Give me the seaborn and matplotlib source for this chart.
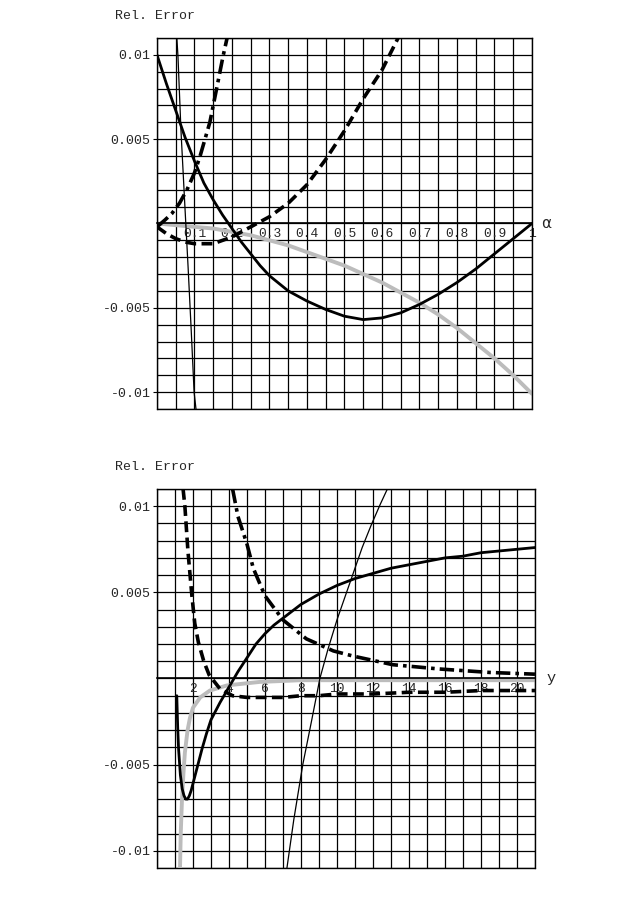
import numpy as np
import pandas as pd
import matplotlib
matplotlib.use("Agg")
import matplotlib.pyplot as plt
import seaborn as sns

# ---- upper panel: relative error against alpha ----
top_solid_x = [0.0, 0.025, 0.05, 0.075, 0.1, 0.125, 0.15, 0.175, 0.2, 0.225, 0.25, 0.275, 0.3,
               0.35, 0.4, 0.45, 0.5, 0.55, 0.6, 0.65, 0.7, 0.75, 0.8, 0.85, 0.9, 0.95, 1.0]
top_solid_y = [0.0100, 0.0083, 0.0067, 0.0051, 0.0037, 0.0024, 0.0014, 0.0005, -0.0003, -0.0011, -0.0018,
               -0.0025, -0.0031, -0.0040, -0.0046, -0.0051, -0.0055, -0.0057, -0.0056, -0.0053, -0.0048,
               -0.0042, -0.0035, -0.0027, -0.0018, -0.0009, 0.0000]

top_gray_x = [0.0, 0.05, 0.1, 0.15, 0.2, 0.25, 0.3, 0.35, 0.4, 0.45, 0.5,
              0.55, 0.6, 0.65, 0.7, 0.75, 0.8, 0.85, 0.9, 0.95, 1.0]
top_gray_y = [0.0000, -0.0001, -0.0002, -0.0003, -0.0005, -0.0007, -0.0010, -0.0013, -0.0017, -0.0021, -0.0025,
              -0.0030, -0.0035, -0.0041, -0.0047, -0.0054, -0.0062, -0.0071, -0.0080, -0.0090, -0.0101]

top_dash_x = [0.0, 0.025, 0.05, 0.075, 0.1, 0.125, 0.15, 0.175, 0.2, 0.25, 0.3, 0.35, 0.4, 0.45, 0.5,
              0.55, 0.6, 0.643]
top_dash_y = [-0.0002, -0.0006, -0.0009, -0.0011, -0.0012, -0.0012, -0.0012, -0.0010, -0.0008, -0.0002,
              0.0004, 0.0012, 0.0023, 0.0038, 0.0055, 0.0074, 0.0091, 0.0110]

top_dashdot_x = [0.0, 0.021, 0.04, 0.06, 0.08, 0.1, 0.115, 0.128, 0.141, 0.16, 0.176, 0.187]
top_dashdot_y = [-0.0002, 0.0002, 0.0006, 0.0012, 0.0020, 0.0030, 0.0040, 0.0050, 0.0060, 0.0081, 0.0099, 0.0110]

top_thin_x = [0.053, 0.056, 0.064, 0.074, 0.083, 0.091, 0.099, 0.104]
top_thin_y = [0.0110, 0.0099, 0.0055, 0.0012, -0.0026, -0.0062, -0.0100, -0.0110]

# ---- lower panel: relative error against y ----
bot_solid_x = [1.1, 1.15, 1.2, 1.3, 1.4, 1.5, 1.6, 1.7, 1.8, 1.9, 2.0, 2.25, 2.5, 2.75, 3.0, 3.5, 4.0,
               4.5, 5.0, 5.5, 6.0, 6.5, 7.0, 8.0, 9.0, 10.0, 11.0, 12.0, 13.0, 14.0, 15.0, 16.0, 17.0,
               18.0, 19.0, 20.0, 21.0]
bot_solid_y = [-0.0010, -0.0028, -0.0041, -0.0056, -0.0064, -0.0068, -0.0070, -0.0070, -0.0068, -0.0065,
               -0.0061, -0.0051, -0.0041, -0.0032, -0.0024, -0.0014, -0.0005, 0.0004, 0.0012, 0.0020,
               0.0026, 0.0031, 0.0035, 0.0043, 0.0049, 0.0054, 0.0058, 0.0061, 0.0064, 0.0066, 0.0068,
               0.0070, 0.0071, 0.0073, 0.0074, 0.0075, 0.0076]

bot_dash_x = [1.45, 1.55, 1.72, 1.94, 2.1, 2.3, 2.6, 2.9, 3.5, 4.2, 5.0, 6.0, 7.0, 8.0, 9.0, 10.0,
              12.0, 14.0, 16.0, 18.0, 20.0, 21.0]
bot_dash_y = [0.0110, 0.0100, 0.0074, 0.0048, 0.0032, 0.0021, 0.0010, 0.0002, -0.0006, -0.0010, -0.0011,
              -0.0011, -0.0011, -0.0010, -0.0010, -0.0009, -0.0009, -0.0008, -0.0008, -0.0007, -0.0007, -0.0007]

bot_dashdot_x = [4.2, 4.5, 5.0, 5.35, 6.0, 7.0, 8.3, 9.8, 10.9, 13.1, 15.7, 18.5, 21.0]
bot_dashdot_y = [0.0110, 0.0094, 0.0078, 0.0064, 0.0048, 0.0034, 0.0023, 0.0016, 0.0013, 0.0008, 0.00055,
                 0.00035, 0.00025]

bot_thin_x = [7.22, 7.6, 8.1, 8.6, 9.05, 9.5, 10.0, 10.5, 10.9, 11.4, 11.9, 12.4, 12.8]
bot_thin_y = [-0.0110, -0.0082, -0.0050, -0.0024, 0.0000, 0.0017, 0.0034, 0.0049, 0.0061, 0.0076, 0.0089,
              0.0101, 0.0110]

bot_gray_x = [1.28, 1.32, 1.39, 1.47, 1.55, 1.7, 1.83, 2.0, 2.4, 2.94, 3.9, 5.7, 8.0, 12.0, 16.0, 21.0]
bot_gray_y = [-0.0110, -0.0090, -0.0070, -0.0055, -0.0043, -0.0030, -0.0023, -0.0017, -0.0011, -0.0007,
              -0.0004, -0.0002, -0.0001, -0.0001, -0.0001, -0.0001]

y_ticks = [-0.01, -0.005, 0.005, 0.01]
y_tick_labels = ["-0.01", "-0.005", "0.005", "0.01"]
top_xticks = [0.1, 0.2, 0.3, 0.4, 0.5, 0.6, 0.7, 0.8, 0.9, 1.0]
top_xtick_labels = ["0.1", "0.2", "0.3", "0.4", "0.5", "0.6", "0.7", "0.8", "0.9", "1"]
bot_xticks = [2, 4, 6, 8, 10, 12, 14, 16, 18, 20]
bot_xtick_labels = ["2", "4", "6", "8", "10", "12", "14", "16", "18", "20"]

YLIM = (-0.011, 0.011)
GRAY = '#bcbcbc'
DASH = (3, 1.5)
DASHDOT = (4, 1.4, 1, 1.4)

sns.set_style("white")
plt.rcParams['font.family'] = ['Liberation Mono', 'DejaVu Sans']
plt.rcParams['axes.unicode_minus'] = False

fig = plt.figure(figsize=(6.34, 9.02), dpi=100)
ax1 = fig.add_axes([0.2476, 0.5466, 0.5915, 0.4113])
ax2 = fig.add_axes([0.2476, 0.0377, 0.5962, 0.4202])


def setup(ax, xmax, xstep, xticks, xlabels, xname, name_pos):
    ax.set_xlim(0, xmax)
    ax.set_ylim(*YLIM)
    ax.set_xticks(np.round(np.arange(0, xmax + xstep / 2, xstep), 4), minor=True)
    ax.set_xticks(xticks)
    ax.set_xticklabels(xlabels)
    ax.set_yticks(np.round(np.arange(YLIM[0], YLIM[1] + 0.0005, 0.001), 4), minor=True)
    ax.set_yticks(y_ticks)
    ax.set_yticklabels(y_tick_labels)
    ax.grid(which='both', color='black', lw=0.9)
    ax.set_axisbelow(True)
    for s in ax.spines.values():
        s.set_color('black')
        s.set_linewidth(1.0)
    ax.spines['bottom'].set_position(('data', 0))
    ax.spines['bottom'].set_linewidth(1.2)
    ax.axhline(YLIM[0], color='black', lw=1.0, clip_on=False)
    ax.tick_params(which='minor', length=0)
    ax.tick_params(axis='x', which='major', direction='inout', length=3, pad=1.5,
                   labelsize=9.3, color='black')
    ax.tick_params(axis='y', which='major', direction='out', length=3, pad=1.5,
                   labelsize=9.5, color='black', left=True)
    ax.set_xlabel(xname, ha='center', va='center', fontsize=11)
    ax.xaxis.set_label_coords(*name_pos)
    ax.set_ylabel("Rel. Error", rotation=0, ha='left', va='center', fontsize=9.5)
    ax.yaxis.set_label_coords(-0.112, 1.058)


def curve(ax, x, y, **kw):
    sns.lineplot(x=x, y=y, ax=ax, errorbar=None, solid_joinstyle='round', **kw)


setup(ax1, 1.0, 0.05, top_xticks, top_xtick_labels, "α", (1.037, 0.5))
curve(ax1, top_gray_x, top_gray_y, color=GRAY, lw=2.8)
curve(ax1, top_solid_x, top_solid_y, color='black', lw=2.0)
curve(ax1, top_dash_x, top_dash_y, color='black', lw=2.6, dashes=DASH)
curve(ax1, top_dashdot_x, top_dashdot_y, color='black', lw=2.6, dashes=DASHDOT)
curve(ax1, top_thin_x, top_thin_y, color='black', lw=0.9)
ax1.xaxis.label.set_family(['DejaVu Sans'])

setup(ax2, 21, 1, bot_xticks, bot_xtick_labels, "y", (1.042, 0.5))
curve(ax2, bot_gray_x, bot_gray_y, color=GRAY, lw=2.8)
curve(ax2, bot_solid_x, bot_solid_y, color='black', lw=2.0)
curve(ax2, bot_dash_x, bot_dash_y, color='black', lw=2.6, dashes=DASH)
curve(ax2, bot_dashdot_x, bot_dashdot_y, color='black', lw=2.6, dashes=DASHDOT)
curve(ax2, bot_thin_x, bot_thin_y, color='black', lw=0.9)

fig.savefig("out.png", dpi=100)
